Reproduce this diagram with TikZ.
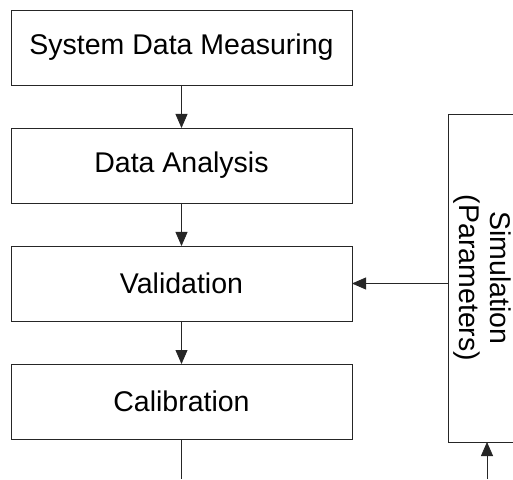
\documentclass[tikz,border=0pt]{standalone}
\usepackage{fontspec}
\setmainfont{Liberation Sans}
\usetikzlibrary{positioning,arrows.meta}

\begin{document}
\begin{tikzpicture}
[
    x=1pt,y=1pt,
    node distance = 43pt,
]

\tikzstyle{stepbox}=[rectangle, draw=black!85, line width=0.8pt, minimum width=341pt, minimum height=75pt, outer sep=0pt, inner sep=0pt, font=\fontsize{28.5}{34}\selectfont]
\tikzstyle{simbox}=[rectangle, draw=black!85, line width=0.8pt, minimum width=72pt, minimum height=328pt, outer sep=0pt, inner sep=0pt, font=\fontsize{28.5}{31.5}\selectfont]
\tikzstyle{flow}=[draw=black!85, line width=0.8pt, -{Triangle[width=12pt,length=14pt]}]

\useasboundingbox (0,0) rectangle (513,479);
\clip (0,0) rectangle (513,479);

\node [stepbox] (sys) at (181.5,431.5) {System Data Measuring};
\node [stepbox, below=of sys] (ana) {Data Analysis};
\node [stepbox, below=of ana] (val) {Validation};
\node [stepbox, below=of val] (cal) {Calibration};
\node [simbox] (sim) at (484,201) {\rotatebox{-90}{\begin{tabular}{@{}c@{}}\rule{0pt}{27pt}Simulation\\(Parameters)\end{tabular}}};

\coordinate (calout) at (cal.south |- 0,0);
\coordinate (simin) at ([xshift=3pt]sim.south |- 0,0);

\draw [flow] (sys) -- (ana);
\draw [flow] (ana) -- (val);
\draw [flow] (val) -- (cal);
\draw [flow] (sim.west |- val.east) -- (val.east);
\draw [flow] (simin) -- (simin |- sim.south);
\draw [draw=black!85, line width=0.8pt] (cal.south) -- (calout);
\end{tikzpicture}
\end{document}
